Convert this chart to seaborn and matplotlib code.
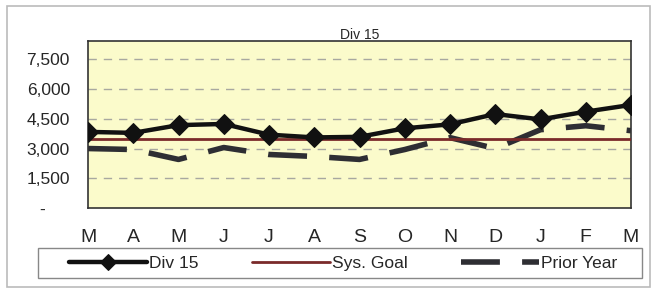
#!/usr/bin/env python3

import pandas as pd
import matplotlib
matplotlib.use("Agg")
from matplotlib import pyplot as plt
from matplotlib.patches import Rectangle
import seaborn as sns

sns.set_style("white")
plt.rcParams["font.family"] = ["Liberation Sans", "DejaVu Sans"]

months = ["M", "A", "M", "J", "J", "A", "S", "O", "N", "D", "J", "F", "M"]
div15 = [3840, 3790, 4180, 4240, 3700, 3560, 3590, 4020, 4220, 4740, 4470, 4860, 5200]
sys_goal = [3500] * 13
prior_year = [3000, 2950, 2450, 3050, 2700, 2600, 2450, 2950, 3550, 3000, 3950, 4150, 3900]
y_ticks = [0, 1500, 3000, 4500, 6000, 7500]
y_labels = ["-     ", "1,500", "3,000", "4,500", "6,000", "7,500"]

df = pd.DataFrame({"idx": range(len(months)), "Div 15": div15,
                   "Sys. Goal": sys_goal, "Prior Year": prior_year})

W, H = 653, 291
fig = plt.figure(figsize=(W / 100, H / 100), dpi=100)


def frame(x0, y0, x1, y1, color, lw):
    # pixel box (top-left origin) -> figure rectangle
    fig.patches.append(Rectangle((x0 / W, 1 - y1 / H), (x1 - x0) / W, (y1 - y0) / H,
                                 transform=fig.transFigure, fill=False,
                                 edgecolor=color, linewidth=lw))


frame(7, 6, 650, 287, "#bbbbbb", 1.2)
frame(38, 248, 642, 278, "#888888", 1.0)

ax = fig.add_axes([88 / W, 1 - 208 / H, (631 - 88) / W, (208 - 40.5) / H])
ax.set_facecolor("#fbfbcb")

for y in y_ticks[1:]:
    ax.axhline(y, color="#a8a8a0", linestyle=(0, (6, 5)), linewidth=1, zorder=1)

sns.lineplot(data=df, x="idx", y="Prior Year", ax=ax, color="#2e2e33", linewidth=4,
             label="Prior Year", zorder=2)
ax.lines[-1].set_linestyle((0, (7, 4)))
sns.lineplot(data=df, x="idx", y="Sys. Goal", ax=ax, color="#7a2a2a", linewidth=2,
             label="Sys. Goal", zorder=3)
sns.lineplot(data=df, x="idx", y="Div 15", ax=ax, color="#111111", linewidth=3.2,
             marker="D", markersize=10, markeredgecolor="#111111", label="Div 15", zorder=4)

ax.set_xlim(0, 12)
ax.set_ylim(0, 8450)
ax.set_xticks(range(len(months)))
ax.set_xticklabels(months, fontsize=14)
ax.set_yticks(y_ticks)
ax.set_yticklabels(y_labels, fontsize=12.5)
ax.tick_params(axis="both", direction="out", length=4, width=0.8, color="#555555")
ax.tick_params(axis="x", pad=11)
ax.tick_params(axis="y", pad=9)
ax.set_xlabel("")
ax.set_ylabel("")
for s in ax.spines.values():
    s.set_color("#333333")
    s.set_linewidth(1.2)
ax.set_title("Div 15", fontsize=10, pad=1)

handles, labels = ax.get_legend_handles_labels()
order = [labels.index(n) for n in ["Div 15", "Sys. Goal", "Prior Year"]]
leg = ax.legend([handles[i] for i in order], [labels[i] for i in order], ncol=3,
                loc="center left", bbox_to_anchor=(60 / W, 1 - 263 / H),
                bbox_transform=fig.transFigure, fontsize=12.5, frameon=False,
                handlelength=4.5, handletextpad=0.1, columnspacing=3.1,
                borderpad=0, markerscale=0.8)

fig.savefig("out.png", dpi=100)
